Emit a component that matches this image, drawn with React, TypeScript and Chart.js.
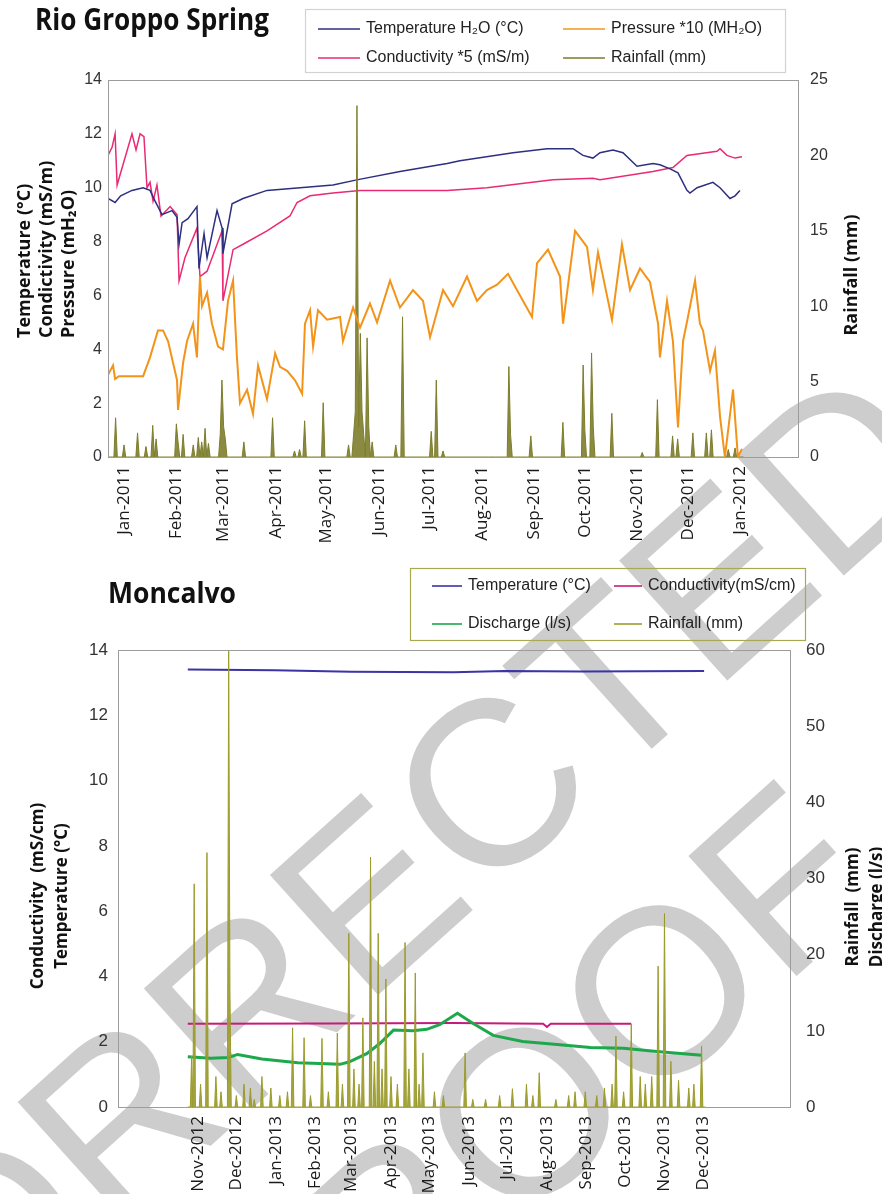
import { useEffect, useRef } from "react";
import { Chart, registerables } from "chart.js";

Chart.register(...registerables);

// ================= Rio Groppo Spring (x = days since 1 Jan 2011) =================
const rgTickDays = [0, 31, 59, 90, 120, 151, 181, 212, 243, 273, 304, 334, 365];
const rgTickLabels = [
  "Jan-2011", "Feb-2011", "Mar-2011", "Apr-2011", "May-2011", "Jun-2011", "Jul-2011",
  "Aug-2011", "Sep-2011", "Oct-2011", "Nov-2011", "Dec-2011", "Jan-2012",
];

const rgTemperature: [number, number][] = [
  [-9.5, 9.6], [-5.3, 9.45], [-2, 9.7], [4.7, 9.9], [11.3, 10.0], [15.4, 9.9], [18.4, 9.5],
  [22.5, 9.0], [28.4, 9.15], [31.4, 8.9], [32.6, 7.9], [34.4, 8.7], [37.9, 8.85], [43.2, 9.3],
  [44.4, 7.0], [47.4, 8.3], [49.2, 7.4], [55.1, 9.15], [58.1, 8.5], [58.6, 7.55], [64, 9.4],
  [70.5, 9.6], [84.7, 9.9], [104.3, 10.0], [123.8, 10.1], [138.6, 10.3], [163.5, 10.6],
  [191.4, 10.9], [199, 11.0], [230.5, 11.3], [250.6, 11.45], [266, 11.45], [271.9, 11.2],
  [277.8, 11.1], [282, 11.3], [289.7, 11.4], [295.6, 11.3], [303.9, 10.8], [313.4, 10.9],
  [317.5, 10.85], [323.5, 10.7], [328.2, 10.55], [333.5, 9.9], [335.3, 9.8], [339.5, 10.0],
  [348.9, 10.2], [353.1, 10.0], [359, 9.6], [362, 9.7], [364.9, 9.9],
];

const rgConductivity: [number, number][] = [
  [-9.5, 11.2], [-7.1, 11.5], [-5.3, 12.0], [-4.1, 10.1], [4.7, 12.0], [7.1, 11.4], [9.5, 12.0],
  [11.8, 11.9], [13.6, 10.0], [15.4, 10.2], [17.2, 9.5], [19.5, 10.1], [21.9, 8.95], [27.3, 9.3],
  [31.4, 9.0], [32.6, 6.55], [36.1, 7.4], [43.2, 8.5], [45, 6.7], [49.2, 6.9], [58.1, 8.4],
  [58.6, 5.8], [64.6, 7.7], [70.5, 7.9], [84.7, 8.4], [98.3, 8.95], [102.5, 9.45], [110.2, 9.7],
  [123.8, 9.8], [139.8, 9.9], [191.4, 9.9], [215, 10.0], [254.1, 10.3], [277.8, 10.35],
  [282, 10.3], [313.4, 10.6], [325.2, 10.75], [333.5, 11.2], [351.3, 11.35], [353.1, 11.45],
  [357.2, 11.2], [362, 11.1], [366.1, 11.15],
];

const rgPressure: [number, number][] = [
  [-9.5, 3.05], [-6.5, 3.4], [-5.3, 2.9], [-3, 3.0], [11.3, 3.0], [15.4, 3.7], [20.1, 4.7],
  [23.1, 4.7], [26.1, 4.3], [31.4, 2.85], [32, 1.75], [35, 3.5], [37.3, 4.3], [40.9, 4.95],
  [43.2, 3.7], [44.4, 5.8], [45, 6.7], [46.2, 5.6], [49.2, 6.1], [52.1, 4.95], [55.7, 4.1],
  [58.6, 4.0], [61.6, 5.8], [64.6, 6.55], [66.9, 3.7], [68.7, 2.0], [72.9, 2.5], [76.4, 1.6],
  [79.4, 3.4], [84.7, 2.15], [89.5, 3.85], [92.4, 3.35], [96.6, 3.2], [101.3, 2.85],
  [105.5, 2.35], [107.2, 4.95], [110.2, 5.45], [112, 4.1], [114.9, 5.45], [120.3, 5.1],
  [128, 5.2], [129.7, 4.3], [135.7, 5.55], [139.8, 4.8], [145.7, 5.7], [149.9, 5.0],
  [157.6, 6.55], [163.5, 5.55], [171.2, 6.2], [177.1, 5.8], [181.3, 4.45], [189, 6.2],
  [194.9, 5.6], [203.2, 6.7], [209.1, 5.8], [215, 6.2], [221, 6.4], [227.5, 6.8], [234.6, 6.0],
  [241.7, 5.2], [244.7, 7.2], [251.2, 7.7], [258.3, 6.7], [260.1, 4.95], [267.2, 8.4],
  [274.3, 7.8], [277.8, 6.2], [280.8, 7.6], [289.1, 5.1], [295, 7.9], [299.8, 6.2], [305.7, 7.0],
  [311.6, 6.5], [316.4, 4.95], [317.5, 3.7], [321.7, 5.8], [325.2, 4.3], [328.2, 1.1],
  [331.2, 4.3], [334.1, 5.2], [338.3, 6.55], [341.2, 4.95], [343, 4.7], [347.2, 3.2],
  [350.1, 3.95], [353.1, 1.5], [356, 0], [360.8, 2.5], [363.7, 0], [366.1, 0.3],
];

// rainfall events: [day, mm]
const rgRainfall: [number, number][] = [
  [-5, 2.6], [0, 0.8], [8, 1.6], [13, 0.7], [17, 2.1], [19, 1.2], [31, 2.2], [32, 1.0], [35, 1.5],
  [41, 0.8], [44, 1.3], [46, 1.0], [48, 1.9], [50, 0.9], [57, 1.5], [58, 5.1], [59, 2.0],
  [60, 1.2], [71, 1.0], [88, 2.6], [101, 0.4], [104, 0.5], [107, 2.4], [118, 3.6], [133, 0.8],
  [136, 1.5], [137, 3.0], [138, 23.3], [139, 2.0], [140, 8.2], [141, 3.0], [142, 1.5],
  [144, 7.9], [145, 2.0], [147, 1.0], [161, 0.8], [165, 9.3], [182, 1.7], [185, 5.1],
  [189, 0.4], [228, 6.0], [229, 1.5], [241, 1.4], [260, 2.3], [272, 6.1], [273, 1.8],
  [277, 6.9], [278, 2.0], [289, 2.9], [307, 0.3], [316, 3.8], [325, 1.4], [328, 1.2],
  [337, 1.6], [345, 1.6], [348, 1.8], [358, 0.5], [362, 0.6],
];

// ================= Moncalvo (x = days since 1 Nov 2012) =================
const mcTickDays = [0, 30, 61, 92, 120, 151, 181, 212, 242, 273, 304, 334, 365, 395];
const mcTickLabels = [
  "Nov-2012", "Dec-2012", "Jan-2013", "Feb-2013", "Mar-2013", "Apr-2013", "May-2013",
  "Jun-2013", "Jul-2013", "Aug-2013", "Sep-2013", "Oct-2013", "Nov-2013", "Dec-2013",
];

const mcTemperature: [number, number][] = [
  [-8, 13.4], [60, 13.38], [120, 13.33], [200, 13.32], [240, 13.36], [300, 13.34], [396, 13.36],
];

const mcConductivity: [number, number][] = [
  [-8, 2.55], [100, 2.56], [200, 2.57], [270, 2.55], [273, 2.45], [276, 2.55], [339, 2.55],
];

const mcDischarge: [number, number][] = [
  [-8, 6.6], [10, 6.4], [24, 6.5], [31, 6.9], [50, 6.3], [78, 5.8], [95, 5.7], [111, 5.6],
  [118, 5.9], [132, 7.0], [142, 8.3], [153, 10.1], [168, 10.0], [179, 10.2], [189, 10.8],
  [203, 12.3], [215, 11.0], [231, 9.4], [254, 8.6], [281, 8.2], [307, 7.8], [333, 7.7],
  [359, 7.3], [394, 6.8],
];

const mcRainfall: [number, number][] = [
  [-5, 6.7], [-3, 29.3], [2, 3], [7, 33.4], [14, 4], [18, 2], [24, 60], [25, 15], [30, 1.5],
  [36, 3], [41, 2.5], [44, 1], [50, 4], [57, 2.5], [64, 1.5], [70, 2], [74, 10.4], [83, 9.1],
  [88, 1.5], [97, 9], [102, 2], [109, 9.7], [113, 3], [118, 22.8], [122, 5], [126, 3],
  [129, 11.7], [135, 32.8], [138, 6], [141, 22.8], [144, 5], [147, 16.8], [151, 4], [156, 3],
  [162, 21.6], [165, 5], [170, 17.6], [173, 3], [176, 7.1], [185, 2], [192, 1.5], [209, 7.1],
  [215, 1], [225, 1], [236, 1.5], [246, 2.4], [257, 3], [262, 1.5], [267, 4.5], [280, 1],
  [290, 1.5], [295, 2], [303, 2], [312, 1.5], [318, 2.5], [324, 3], [327, 9.3], [333, 2],
  [339, 10.9], [346, 4], [350, 3], [355, 4], [360, 18.5], [365, 25.4], [370, 6], [376, 3.5],
  [384, 2.5], [388, 3], [394, 8],
];

// ---------------------------------------------------------------------------------
const pts = (arr: [number, number][]) => arr.map(([x, y]) => ({ x, y }));

function dailyRain(events: [number, number][], start: number, end: number) {
  const m = new Map(events.map(([d, v]) => [d, v] as [number, number]));
  const out: { x: number; y: number }[] = [];
  for (let d = start; d <= end; d++) out.push({ x: d, y: m.get(d) ?? 0 });
  return out;
}

const TICK_FONT = { family: '"Liberation Sans", Arial, sans-serif', size: 16 };
const XTICK_FONT = { family: '"Open Sans", "Noto Sans", sans-serif', size: 16 };

function makeDecor(spec: any) {
  return {
    id: "decor",
    afterDraw(chart: any) {
      const { ctx, chartArea: a } = chart;
      ctx.save();
      // plot frame
      ctx.strokeStyle = "#9c9c9c";
      ctx.lineWidth = 1;
      ctx.strokeRect(
        Math.round(a.left) + 0.5,
        Math.round(a.top) + 0.5,
        Math.round(a.right - a.left),
        Math.round(a.bottom - a.top)
      );
      // title
      ctx.fillStyle = "#111";
      ctx.font = spec.titleFont;
      ctx.textAlign = "left";
      ctx.textBaseline = "alphabetic";
      ctx.fillText(spec.title, spec.titleX, spec.titleY, spec.titleW);
      // legend box
      const b = spec.legendBox;
      ctx.strokeStyle = b.color;
      ctx.lineWidth = 1.2;
      ctx.strokeRect(b.x + 0.5, b.y + 0.5, b.w, b.h);
      // legend items
      ctx.font = spec.legendFont;
      ctx.textBaseline = "middle";
      spec.items.forEach((it: any) => {
        const ds = chart.data.datasets[it.ds];
        ctx.strokeStyle = ds.borderColor;
        ctx.lineWidth = 1.6;
        ctx.beginPath();
        ctx.moveTo(it.x, it.y);
        ctx.lineTo(it.x + it.len, it.y);
        ctx.stroke();
        ctx.fillStyle = "#222";
        ctx.fillText(ds.label, it.x + it.len + 6, it.y);
      });
      // axis titles (rotated, reading bottom to top)
      spec.axisTitles.forEach((t: any) => {
        ctx.save();
        ctx.translate(t.x, t.y);
        ctx.rotate(-Math.PI / 2);
        ctx.font = t.font;
        ctx.textAlign = t.align;
        ctx.textBaseline = "middle";
        ctx.fillStyle = "#111";
        ctx.fillText(t.text, 0, 0);
        ctx.restore();
      });
      ctx.restore();
    },
  };
}

function lineDs(label: string, data: any, color: string, axis: string, width: number, order: number) {
  return {
    label,
    data,
    borderColor: color,
    backgroundColor: color,
    borderWidth: width,
    pointRadius: 0,
    tension: 0,
    yAxisID: axis,
    order,
  };
}

function rainDs(label: string, data: any, color: string, fillColor: string, order: number) {
  return {
    label,
    data,
    borderColor: color,
    backgroundColor: fillColor,
    borderWidth: 1,
    pointRadius: 0,
    tension: 0,
    fill: "origin",
    yAxisID: "y2",
    order,
  };
}

function scales(opts: any) {
  return {
    x: {
      type: "linear",
      min: opts.xMin,
      max: opts.xMax,
      grid: { display: false, drawTicks: false },
      border: { display: false },
      afterBuildTicks: (s: any) => {
        s.ticks = opts.tickDays.map((v: number) => ({ value: v }));
      },
      afterFit: (s: any) => {
        s.height = opts.xHeight;
      },
      ticks: {
        autoSkip: false,
        minRotation: 90,
        maxRotation: 90,
        padding: 9,
        color: "#1a1a1a",
        font: { ...XTICK_FONT, size: opts.xTickSize },
        callback: (_v: any, i: number) => opts.tickLabels[i],
      },
    },
    y: {
      position: "left",
      min: 0,
      max: 14,
      grid: { display: false, drawTicks: false },
      border: { display: false },
      afterFit: (s: any) => {
        s.width = opts.leftW;
      },
      ticks: { stepSize: 2, padding: opts.leftPad, color: "#333", font: { ...TICK_FONT, size: opts.tickSize } },
    },
    y2: {
      position: "right",
      min: 0,
      max: opts.y2Max,
      grid: { display: false, drawTicks: false },
      border: { display: false },
      afterFit: (s: any) => {
        s.width = opts.rightW;
      },
      ticks: { stepSize: opts.y2Step, padding: opts.rightPad, color: "#333", font: { ...TICK_FONT, size: opts.tickSize } },
    },
  };
}

function topConfig(): any {
  const datasets = [
    lineDs("Temperature H\u2082O (°C)", pts(rgTemperature), "#2d2f80", "y", 1.5, 3),
    lineDs("Pressure *10 (MH\u2082O)", pts(rgPressure), "#f39419", "y", 2, 1),
    lineDs("Conductivity *5 (mS/m)", pts(rgConductivity), "#ea2a72", "y", 1.5, 4),
    rainDs("Rainfall (mm)", dailyRain(rgRainfall, -9, 367), "#7d7d2c", "rgba(125,125,44,0.9)", 2),
  ];
  return {
    type: "line",
    data: { datasets },
    options: {
      animation: false,
      responsive: false,
      layout: { padding: { top: 80, left: 0, right: 0, bottom: 0 } },
      plugins: { legend: { display: false }, tooltip: { enabled: false } },
      scales: scales({
        xMin: -9.5, xMax: 399.3, tickDays: rgTickDays, tickLabels: rgTickLabels, xHeight: 103,
        leftW: 108, rightW: 84, leftPad: 6, rightPad: 12, y2Max: 25, y2Step: 5, tickSize: 16,
        xTickSize: 17,
      }),
    },
    plugins: [
      makeDecor({
        title: "Rio Groppo Spring",
        titleFont: 'bold 30px "Open Sans", "Noto Sans", sans-serif',
        titleX: 35, titleY: 30, titleW: 234,
        legendBox: { x: 305, y: 9, w: 480, h: 63, color: "#d2d2d2" },
        legendFont: '16px "Liberation Sans", Arial, sans-serif',
        items: [
          { ds: 0, x: 318, y: 29, len: 42 },
          { ds: 1, x: 563, y: 29, len: 42 },
          { ds: 2, x: 318, y: 58, len: 42 },
          { ds: 3, x: 563, y: 58, len: 42 },
        ],
        axisTitles: [
          { text: "Temperature (°C)", x: 25, y: 338, align: "left", font: 'bold 18px "Open Sans", sans-serif' },
          { text: "Condictivity (mS/m)", x: 47, y: 338, align: "left", font: 'bold 18px "Open Sans", sans-serif' },
          { text: "Pressure (mH\u2082O)", x: 69, y: 338, align: "left", font: 'bold 18px "Open Sans", sans-serif' },
          { text: "Rainfall (mm)", x: 852, y: 275, align: "center", font: 'bold 18px "Open Sans", sans-serif' },
        ],
      }),
    ],
  };
}

function bottomConfig(): any {
  const datasets = [
    lineDs("Temperature (°C)", pts(mcTemperature), "#3b33a6", "y", 2, 3),
    lineDs("Conductivity(mS/cm)", pts(mcConductivity), "#c61a7c", "y", 2, 4),
    lineDs("Discharge (l/s)", pts(mcDischarge), "#1ca84b", "y2", 3, 2),
    rainDs("Rainfall (mm)", dailyRain(mcRainfall, -8, 397), "#9b9b2c", "rgba(155,155,44,0.9)", 1),
  ];
  return {
    type: "line",
    data: { datasets },
    options: {
      animation: false,
      responsive: false,
      layout: { padding: { top: 90, left: 0, right: 0, bottom: 0 } },
      plugins: { legend: { display: false }, tooltip: { enabled: false } },
      scales: scales({
        xMin: -62.6, xMax: 463.2, tickDays: mcTickDays, tickLabels: mcTickLabels, xHeight: 87,
        leftW: 118, rightW: 92, leftPad: 10, rightPad: 16, y2Max: 60, y2Step: 10, tickSize: 17,
        xTickSize: 17,
      }),
    },
    plugins: [
      makeDecor({
        title: "Moncalvo",
        titleFont: 'bold 28px "Open Sans", "Noto Sans", sans-serif',
        titleX: 108, titleY: 43, titleW: 128,
        legendBox: { x: 410, y: 8, w: 395, h: 72, color: "#a9a951" },
        legendFont: '16px "Liberation Sans", Arial, sans-serif',
        items: [
          { ds: 0, x: 432, y: 26, len: 30 },
          { ds: 1, x: 614, y: 26, len: 28 },
          { ds: 2, x: 432, y: 64, len: 30 },
          { ds: 3, x: 614, y: 64, len: 28 },
        ],
        axisTitles: [
          { text: "Conductivity  (mS/cm)", x: 38, y: 336, align: "center", font: 'bold 17px "Open Sans", sans-serif' },
          { text: "Temperature (°C)", x: 62, y: 336, align: "center", font: 'bold 17px "Open Sans", sans-serif' },
          { text: "Rainfall  (mm)", x: 853, y: 347, align: "center", font: 'bold 17px "Open Sans", sans-serif' },
          { text: "Discharge (l/s)", x: 877, y: 347, align: "center", font: 'bold 17px "Open Sans", sans-serif' },
        ],
      }),
    ],
  };
}

const wm = (cx: number, cy: number): any => ({
  position: "absolute",
  left: cx,
  top: cy,
  transform: "translate(-50%, -50%) rotate(-42deg)",
  font: '235px "Liberation Sans", Arial, sans-serif',
  lineHeight: 1,
  color: "#cdcdcd",
  whiteSpace: "nowrap",
});

export default function App() {
  const topRef = useRef<HTMLCanvasElement>(null);
  const botRef = useRef<HTMLCanvasElement>(null);
  useEffect(() => {
    const c1 = new Chart(topRef.current as HTMLCanvasElement, topConfig());
    const c2 = new Chart(botRef.current as HTMLCanvasElement, bottomConfig());
    return () => {
      c1.destroy();
      c2.destroy();
    };
  }, []);
  return (
    <div style={{ position: "absolute", left: 0, top: 0, width: 882, height: 1194, overflow: "hidden", background: "#fff" }}>
      <div style={wm(222, 1026)}>UNCORRECTED</div>
      <div style={wm(524, 1112)}>PROOF</div>
      <canvas ref={topRef} width={882} height={560} style={{ position: "absolute", left: 0, top: 0 }} />
      <canvas ref={botRef} width={882} height={634} style={{ position: "absolute", left: 0, top: 560 }} />
    </div>
  );
}
